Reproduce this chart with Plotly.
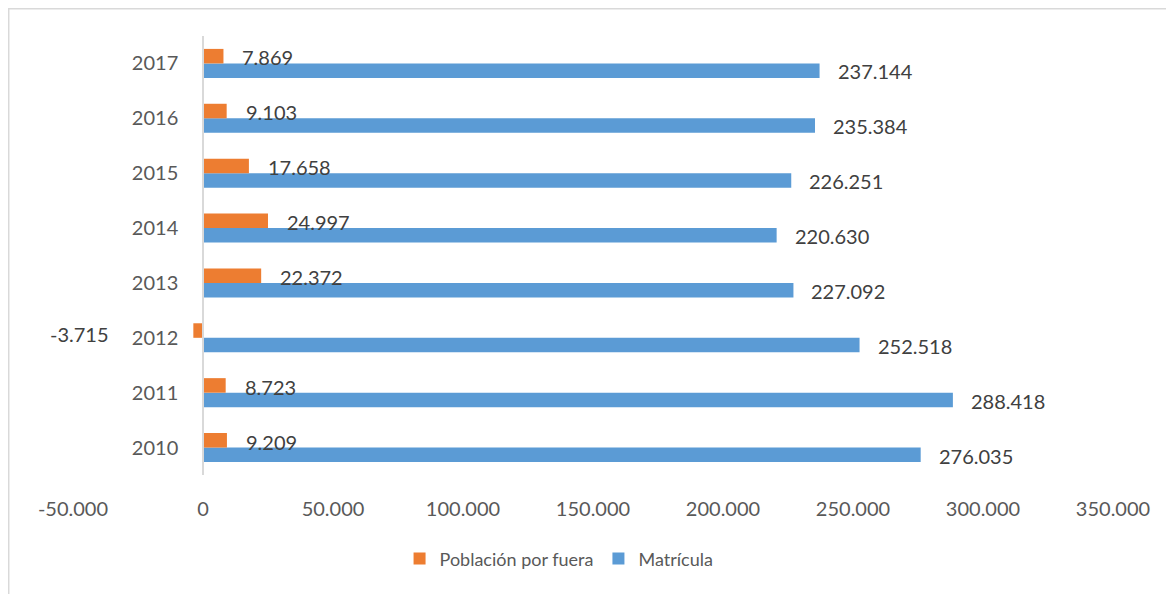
import plotly.graph_objects as go

years = [2010, 2011, 2012, 2013, 2014, 2015, 2016, 2017]
poblacion_por_fuera = [9209, 8723, -3715, 22372, 24997, 17658, 9103, 7869]
matricula = [276035, 288418, 252518, 227092, 220630, 226251, 235384, 237144]
x_ticks = [-50000, 0, 50000, 100000, 150000, 200000, 250000, 300000, 350000]

ORANGE = "#ED7D31"
BLUE = "#5B9BD5"
FONT = "Lato, Calibri, sans-serif"

def fmt(v):
    return f"{v:,}".replace(",", ".")

fig = go.Figure()
fig.add_trace(go.Bar(y=years, x=matricula, orientation="h", name="Matrícula",
                     marker=dict(color=BLUE, line=dict(width=0))))
fig.add_trace(go.Bar(y=years, x=poblacion_por_fuera, orientation="h", name="Población por fuera",
                     marker=dict(color=ORANGE, line=dict(width=0))))

annotations = []
for yv, v in zip(years, poblacion_por_fuera):
    annotations.append(dict(x=v, y=yv, xref="x", yref="y", text=fmt(v), showarrow=False,
                            xanchor="left" if v >= 0 else "right",
                            xshift=17 if v >= 0 else -82, yshift=6 if v >= 0 else 4,
                            font=dict(family=FONT, size=20, color="#404040")))
for yv, v in zip(years, matricula):
    annotations.append(dict(x=v, y=yv, xref="x", yref="y", text=fmt(v), showarrow=False,
                            xanchor="left", xshift=16, yshift=-8,
                            font=dict(family=FONT, size=20, color="#404040")))

fig.update_layout(
    width=1174, height=594,
    margin=dict(l=65, r=69, t=28, b=127),
    paper_bgcolor="white", plot_bgcolor="white",
    barmode="group", bargap=0.47, bargroupgap=0,
    font=dict(family=FONT, size=20, color="#595959"),
    showlegend=True,
    legend=dict(orientation="h", traceorder="reversed", x=0.314, xanchor="left",
                y=-0.191, yanchor="middle", font=dict(family=FONT, size=18, color="#595959"),
                itemwidth=30),
    annotations=annotations,
    xaxis=dict(range=[-50000, 350000], tickmode="array", tickvals=x_ticks,
               ticktext=[fmt(t) for t in x_ticks], showgrid=False,
               zeroline=False, showline=False, ticks="", ticklabelstandoff=20,
               tickfont=dict(family=FONT, size=20, color="#595959")),
    yaxis=dict(range=[2009.5, 2017.5], tickmode="array", tickvals=years,
               ticktext=[str(y) for y in years],
               anchor="free", position=0.125, showgrid=False, zeroline=False,
               showline=True, linecolor="#D9D9D9", linewidth=1.5, ticks="",
               ticklabelstandoff=20, tickfont=dict(family=FONT, size=20, color="#595959")),
    shapes=[dict(type="rect", xref="paper", yref="paper", x0=-0.0618, x1=1.3, y0=-0.6, y1=1.062,
                 line=dict(color="#D9D9D9", width=1.5), fillcolor="rgba(0,0,0,0)", layer="below")],
)

fig.write_html("out.html")
